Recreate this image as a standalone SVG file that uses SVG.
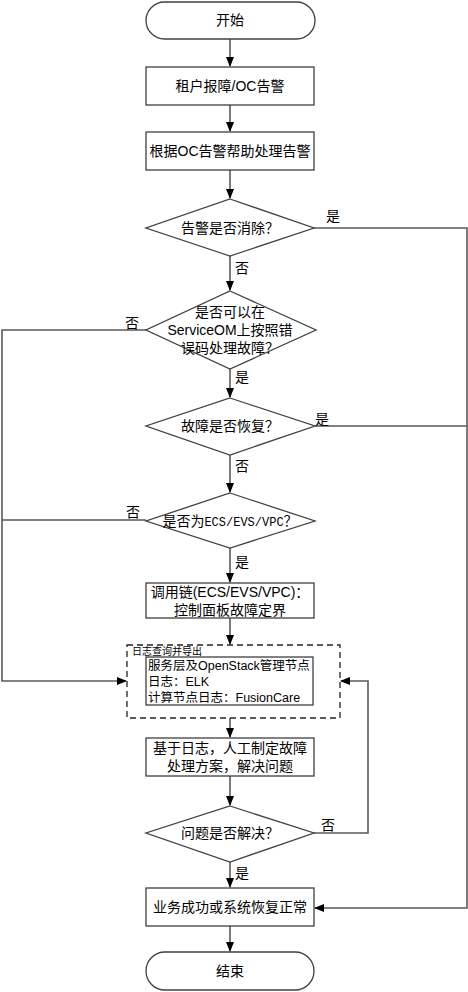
<svg xmlns="http://www.w3.org/2000/svg" width="468" height="992" viewBox="0 0 468 992">
<style>
.s{fill:#fff;stroke:#404040;stroke-width:1.3}
.d{fill:none;stroke:#222;stroke-width:1.3;stroke-dasharray:6 4}
.c{fill:none;stroke:#5a5a5a;stroke-width:1.6}
.t{font-family:"Liberation Sans","Noto Sans CJK SC",sans-serif;font-size:14px;fill:#000;text-anchor:middle}
.l{font-family:"Liberation Sans","Noto Sans CJK SC",sans-serif;font-size:14px;fill:#000}
.i{font-size:12.5px}
.m{font-family:"Liberation Mono","Noto Sans CJK SC",monospace;font-size:12px}
</style>
<defs>
<marker id="a" markerWidth="10" markerHeight="10" refX="9" refY="4" orient="auto" markerUnits="userSpaceOnUse">
<path d="M0,0 L10,4 L0,8 Z" fill="#000"/>
</marker>
</defs>
<g id="connectors">
<path class="c" d="M230,39 V66" marker-end="url(#a)"/>
<path class="c" d="M230,105 V131" marker-end="url(#a)"/>
<path class="c" d="M230,170 V198" marker-end="url(#a)"/>
<path class="c" d="M230,256 V290" marker-end="url(#a)"/>
<path class="c" d="M230,369 V397" marker-end="url(#a)"/>
<path class="c" d="M230,455 V492" marker-end="url(#a)"/>
<path class="c" d="M230,548 V582" marker-end="url(#a)"/>
<path class="c" d="M230,618 V644" marker-end="url(#a)"/>
<path class="c" d="M230,718 V737" marker-end="url(#a)"/>
<path class="c" d="M230,776 V805" marker-end="url(#a)"/>
<path class="c" d="M230,862 V887" marker-end="url(#a)"/>
<path class="c" d="M230,926 V951" marker-end="url(#a)"/>
<path class="c" d="M314,228 H467 V908 H315" marker-end="url(#a)"/>
<path class="c" d="M315,426 H467"/>
<path class="c" d="M146,330 H2 V681 H126" marker-end="url(#a)"/>
<path class="c" d="M146,520 H2"/>
<path class="c" d="M314,833 H368 V681 H341" marker-end="url(#a)"/>
<text class="l" x="326" y="221">是</text>
<text class="l" x="235" y="273">否</text>
<text class="l" x="125" y="328">否</text>
<text class="l" x="235" y="382">是</text>
<text class="l" x="315" y="424">是</text>
<text class="l" x="235" y="471">否</text>
<text class="l" x="126" y="517">否</text>
<text class="l" x="235" y="567">是</text>
<text class="l" x="321" y="830">否</text>
<text class="l" x="235" y="878">是</text>
</g>
<g id="start">
<rect class="s" x="146" y="2" width="169" height="37" rx="18.5"/>
<text class="t" x="230" y="25">开始</text>
</g>
<g id="report">
<rect class="s" x="146" y="67" width="168" height="38"/>
<text class="t" x="230" y="91">租户报障/OC告警</text>
</g>
<g id="handle">
<rect class="s" x="146" y="132" width="168" height="38"/>
<text class="t" x="230" y="156">根据OC告警帮助处理告警</text>
</g>
<g id="d1">
<polygon class="s" points="230,199 314,228 230,256 146,228"/>
<text class="t" x="230" y="233">告警是否消除？</text>
</g>
<g id="d2">
<polygon class="s" points="230,291 316,330 230,369 146,330"/>
<text class="t" x="230" y="317">是否可以在</text>
<text class="t" x="230" y="335">ServiceOM上按照错</text>
<text class="t" x="230" y="353">误码处理故障？</text>
</g>
<g id="d3">
<polygon class="s" points="230,398 315,426 230,455 146,426"/>
<text class="t" x="230" y="431">故障是否恢复？</text>
</g>
<g id="d4">
<polygon class="s" points="230,493 315,521 230,548 146,521"/>
<text class="t" x="230" y="526">是否为<tspan class="m">ECS/EVS/VPC</tspan>？</text>
</g>
<g id="chain">
<rect class="s" x="146" y="583" width="168" height="35"/>
<text class="t" x="230" y="597">调用链(ECS/EVS/VPC)：</text>
<text class="t" x="230" y="615">控制面板故障定界</text>
</g>
<g id="logs">
<rect class="d" x="127" y="645" width="213" height="73"/>
<text class="l" x="132" y="655" style="font-size:10px">日志查询并导出</text>
<rect class="s" x="146" y="657" width="167" height="48"/>
<text class="l i" x="148" y="670">服务层及OpenStack管理节点</text>
<text class="l i" x="148" y="686">日志：ELK</text>
<text class="l i" x="148" y="702">计算节点日志：FusionCare</text>
</g>
<g id="manual">
<rect class="s" x="146" y="738" width="168" height="38"/>
<text class="t" x="230" y="753">基于日志，人工制定故障</text>
<text class="t" x="230" y="771">处理方案，解决问题</text>
</g>
<g id="d5">
<polygon class="s" points="230,806 314,833 230,862 146,833"/>
<text class="t" x="230" y="838">问题是否解决？</text>
</g>
<g id="ok">
<rect class="s" x="146" y="888" width="168" height="38"/>
<text class="t" x="230" y="912">业务成功或系统恢复正常</text>
</g>
<g id="end">
<rect class="s" x="146" y="952" width="168" height="38" rx="19"/>
<text class="t" x="230" y="976">结束</text>
</g>
</svg>
